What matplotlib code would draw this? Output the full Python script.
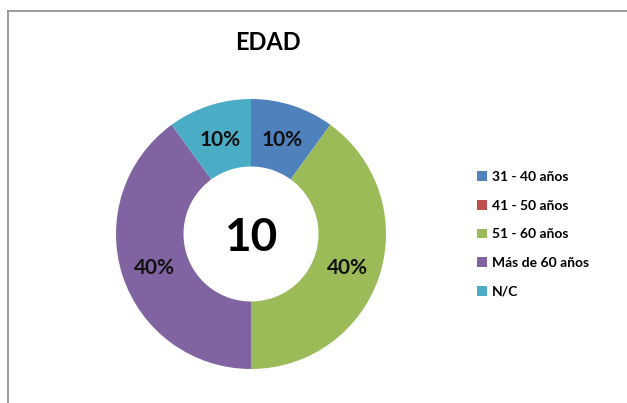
#!/usr/bin/env python3
"""Donut chart: EDAD distribution."""

import math
import matplotlib
matplotlib.use("Agg")
import matplotlib.pyplot as plt
from matplotlib.lines import Line2D
from matplotlib.patches import Patch

categories = ["31 - 40 años", "41 - 50 años", "51 - 60 años", "Más de 60 años", "N/C"]
values = [10, 0, 40, 40, 10]
colors = ["#4F81BD", "#C0504D", "#9BBB59", "#8064A2", "#4BACC6"]
total_label = "10"
title = "EDAD"

plt.rcParams["font.family"] = ["Lato", "DejaVu Sans"]

W, H = 627, 403
fig = plt.figure(figsize=(W / 100, H / 100), dpi=100)

# donut axes: centre (251, 234) px, radius 135 px
cx, cy, r = 251, 234, 135
ax = fig.add_axes([(cx - r) / W, (H - cy - r) / H, 2 * r / W, 2 * r / H])

wedges, _ = ax.pie(values, colors=colors, startangle=90, counterclock=False,
                   radius=1.0, wedgeprops=dict(width=0.5, linewidth=0))

# percentage labels in the middle of the ring
tot = sum(values)
start = 90.0
for v in values:
    ang = start - 360.0 * v / tot / 2
    start -= 360.0 * v / tot
    if v == 0:
        continue
    x = 0.75 * math.cos(math.radians(ang))
    y = 0.75 * math.sin(math.radians(ang)) - 0.02
    ax.text(x, y, f"{round(100 * v / tot)}%", ha="center", va="center",
            fontsize=15, fontweight="bold", color="#111111")

ax.text(0, -0.03, total_label, ha="center", va="center", fontsize=33,
        fontweight="bold", color="black")
ax.set_xlim(-1, 1)
ax.set_ylim(-1, 1)
ax.axis("off")

fig.text(268 / W, 1 - 42 / H, title, ha="center", va="center",
         fontsize=17, fontweight="bold")

# legend
handles = [Patch(facecolor=c, edgecolor="none", label=l)
           for c, l in zip(colors, categories)]
fig.legend(handles=handles, loc="upper left", bbox_to_anchor=(470 / W, 1 - 164 / H),
           frameon=False, prop=dict(size=10, weight="bold"),
           handlelength=0.7, handleheight=0.7, handletextpad=0.4,
           labelspacing=1.2, borderpad=0)

# frame lines on left and top
fig.add_artist(Line2D([7.5 / W, 7.5 / W], [0, 1 - 10.5 / H], color="#8c8c8c", lw=1.2))
fig.add_artist(Line2D([7.5 / W, 1], [1 - 10.5 / H, 1 - 10.5 / H], color="#8c8c8c", lw=1.2))

fig.savefig("out.png", dpi=100)
